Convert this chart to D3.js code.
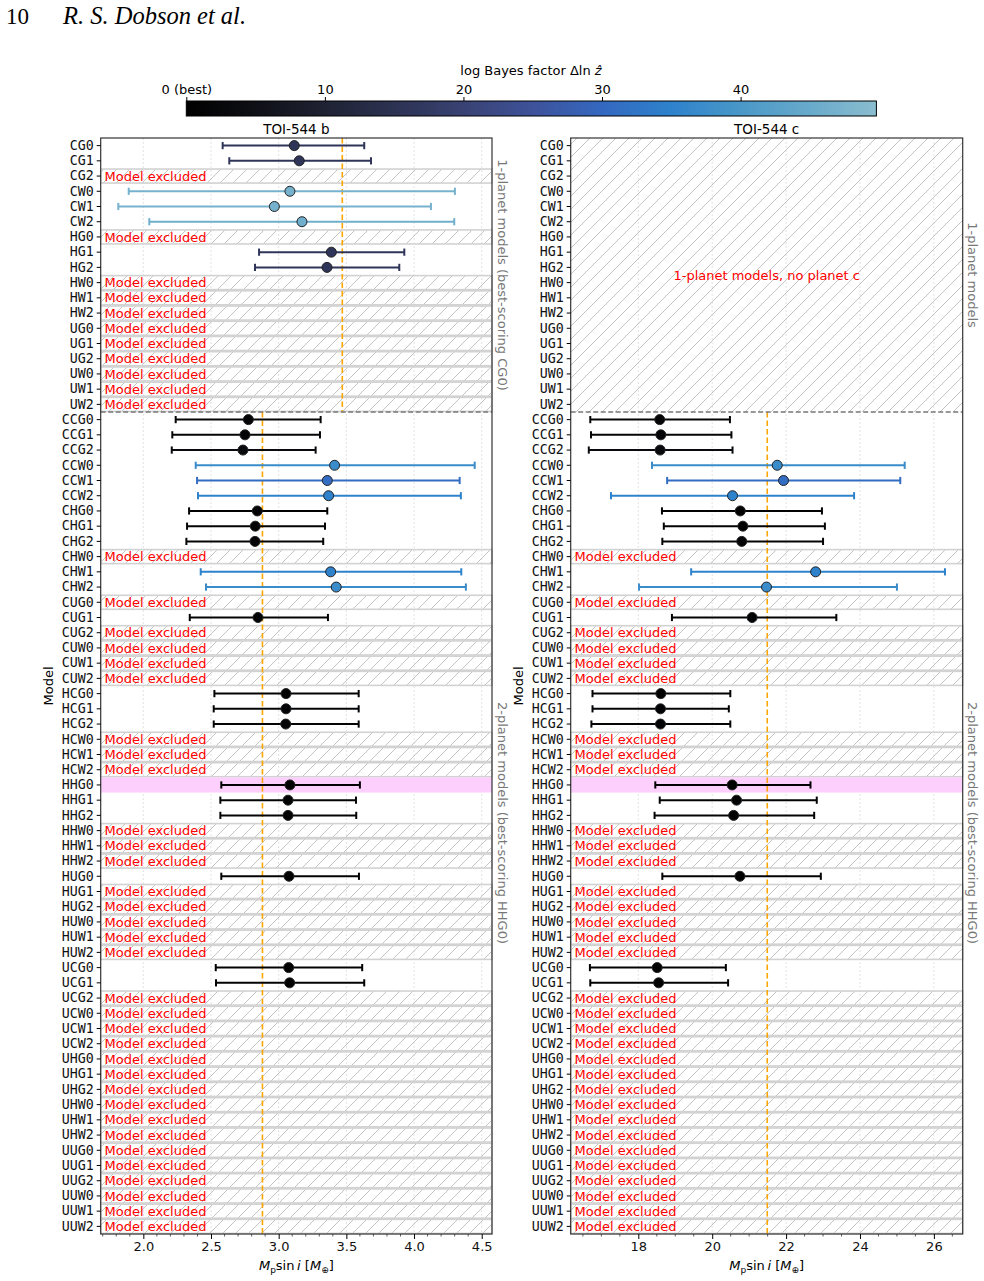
<!DOCTYPE html>
<html><head><meta charset="utf-8">
<script src="https://cdn.jsdelivr.net/npm/d3@7"></script>
<style>body{margin:0;background:#fff}svg{display:block}</style>
</head><body>
<script>
// ---------------- DATA ----------------
const models = ["CG0","CG1","CG2","CW0","CW1","CW2","HG0","HG1","HG2","HW0","HW1","HW2","UG0","UG1","UG2","UW0","UW1","UW2",
"CCG0","CCG1","CCG2","CCW0","CCW1","CCW2","CHG0","CHG1","CHG2","CHW0","CHW1","CHW2","CUG0","CUG1","CUG2","CUW0","CUW1","CUW2",
"HCG0","HCG1","HCG2","HCW0","HCW1","HCW2","HHG0","HHG1","HHG2","HHW0","HHW1","HHW2","HUG0","HUG1","HUG2","HUW0","HUW1","HUW2",
"UCG0","UCG1","UCG2","UCW0","UCW1","UCW2","UHG0","UHG1","UHG2","UHW0","UHW1","UHW2","UUG0","UUG1","UUG2","UUW0","UUW1","UUW2"];
const onePlanetCount = 18;
const bestModel = "HHG0";

// planet b fits (models not listed are excluded)
const fitB = ["CG0","CG1","CW0","CW1","CW2","HG1","HG2","CCG0","CCG1","CCG2","CCW0","CCW1","CCW2","CHG0","CHG1","CHG2","CHW1","CHW2","CUG1","HCG0","HCG1","HCG2","HHG0","HHG1","HHG2","HUG0","UCG0","UCG1"];
const bMed = [3.115,3.152,3.083,2.968,3.172,3.389,3.357,2.776,2.751,2.736,3.413,3.359,3.369,2.842,2.827,2.825,3.384,3.425,2.847,3.054,3.054,3.052,3.083,3.069,3.069,3.076,3.074,3.081];
const bLo  = [2.586,2.635,1.892,1.815,2.044,2.855,2.825,2.239,2.214,2.210,2.387,2.397,2.404,2.338,2.323,2.318,2.424,2.463,2.343,2.525,2.520,2.520,2.576,2.569,2.569,2.576,2.535,2.537];
const bHi  = [3.632,3.682,4.302,4.125,4.297,3.928,3.891,3.310,3.305,3.273,4.448,4.337,4.346,3.359,3.342,3.329,4.349,4.383,3.364,3.591,3.591,3.591,3.600,3.571,3.573,3.593,3.617,3.632];
const deltaLnZ = [16,16,47,47,46,16,16,1.5,1.5,3,37,31,35,0.5,1,1.5,35,37,0.8,0.7,0.8,1.5,0,0.8,1.2,0.5,0.5,0.6];

// planet c fits (2-planet models only)
const fitC = ["CCG0","CCG1","CCG2","CCW0","CCW1","CCW2","CHG0","CHG1","CHG2","CHW1","CHW2","CUG1","HCG0","HCG1","HCG2","HHG0","HHG1","HHG2","HUG0","UCG0","UCG1"];
const cMed = [18.58,18.61,18.59,21.76,21.93,20.55,20.76,20.83,20.80,22.80,21.47,21.08,18.61,18.60,18.60,20.54,20.66,20.58,20.75,18.51,18.55];
const cLo  = [16.70,16.72,16.66,18.37,18.78,17.26,18.64,18.69,18.65,19.43,18.02,18.91,16.76,16.76,16.73,18.46,18.58,18.44,18.65,16.69,16.70];
const cHi  = [20.48,20.52,20.55,25.21,25.09,23.84,22.97,23.05,23.00,26.30,25.00,23.36,20.49,20.45,20.49,22.66,22.83,22.76,22.94,20.37,20.43];

// reference (literature) values
const refB1 = 3.47, refB2 = 2.88, refC2 = 21.49;

const xTicksB = [2.0,2.5,3.0,3.5,4.0,4.5];
const xTicksC = [18,20,22,24,26];
const cbTicks = [0,10,20,30,40];
const cbTickLabels = ["0 (best)","10","20","30","40"];
const cbMax = 49.8;

// colormap stops
const cmapStops = [0,5,10,15,20,25,30,35,40,45,49.8];
const cmapColors = ["#000000","#0f1016","#1f2233","#2c3252","#394273","#3e529a","#3468c0","#2e82cc","#4a98c8","#68aacb","#8abdcf"];

// ---------------- DRAW ----------------
const W = 984, H = 1281;
const svg = d3.select("body").append("svg").attr("width", W).attr("height", H)
  .style("font-family","'DejaVu Sans', sans-serif");
svg.append("rect").attr("width",W).attr("height",H).attr("fill","#fff");

const cmap = d3.scaleLinear().domain(cmapStops).range(cmapColors).interpolate(d3.interpolateRgb).clamp(true);

const defs = svg.append("defs");
const pat = defs.append("pattern").attr("id","hatch").attr("patternUnits","userSpaceOnUse")
  .attr("width",13).attr("height",13);
pat.append("path").attr("d","M-1,1 l2,-2 M0,13 l13,-13 M12,14 l2,-2")
  .attr("stroke","#c4c4c4").attr("stroke-width",1);
const grad = defs.append("linearGradient").attr("id","cbgrad");
cmapStops.forEach((s,i)=>grad.append("stop").attr("offset",(s/cbMax*100)+"%").attr("stop-color",cmapColors[i]));

// header
svg.append("text").attr("x",6).attr("y",24).attr("font-family","'Liberation Serif', serif").attr("font-size",23).text("10");
svg.append("text").attr("x",63).attr("y",24).attr("font-family","'Liberation Serif', serif").attr("font-style","italic").attr("font-size",24.5).text("R. S. Dobson et al.");

// colorbar
const cbX = d3.scaleLinear().domain([0,cbMax]).range([186.3,876.4]);
svg.append("rect").attr("x",cbX(0)).attr("y",101).attr("width",cbX(cbMax)-cbX(0)).attr("height",15)
  .attr("fill","url(#cbgrad)").attr("stroke","#000").attr("stroke-width",1);
const cbAxis = svg.append("g").attr("transform","translate(0,101)")
  .call(d3.axisTop(cbX).tickValues(cbTicks).tickFormat((d,i)=>cbTickLabels[i]).tickSize(4).tickSizeOuter(0));
cbAxis.select(".domain").remove();
cbAxis.selectAll("text").attr("font-size",13).attr("font-family","'DejaVu Sans', sans-serif").attr("fill","#000");
const cbt = svg.append("text").attr("x",531).attr("y",75).attr("text-anchor","middle").attr("font-size",13);
cbt.append("tspan").text("log Bayes factor \u0394ln ");
cbt.append("tspan").attr("font-style","italic").text("z\u0302");

const yTop = 138, yBot = 1234;
const y = d3.scaleBand().domain(models).range([yTop,yBot]).padding(0);
const bw = y.bandwidth();
const yc = m => y(m) + bw/2;

const lnzMap = new Map(fitB.map((m,i)=>[m,deltaLnZ[i]]));

function panel(opts){
  const {x0,x1,domain,ticks,minorStep,title,fits,med,lo,hi,refs,upperHatched,rightLabels,majorFmt} = opts;
  const x = d3.scaleLinear().domain(domain).range([x0,x1]);
  const g = svg.append("g");
  const sepY = y(models[onePlanetCount]);

  // grid
  g.selectAll(".grid").data(ticks).join("line")
    .attr("x1",d=>x(d)).attr("x2",d=>x(d)).attr("y1",yTop).attr("y2",yBot)
    .attr("stroke","#dcdcdc").attr("stroke-width",0.8).attr("stroke-dasharray","2,2");

  // excluded bands
  const fitSet = new Set(fits);
  const excluded = models.filter((m,i)=>!fitSet.has(m) && !(upperHatched && i<onePlanetCount));
  g.selectAll(".band").data(excluded).join("rect")
    .attr("x",x0).attr("width",x1-x0).attr("y",d=>y(d)+0.6).attr("height",bw-1.2)
    .attr("fill","url(#hatch)").attr("stroke","#d2d2d2").attr("stroke-width",1.6);
  if (upperHatched){
    g.append("rect").attr("x",x0).attr("width",x1-x0).attr("y",yTop).attr("height",sepY-yTop)
      .attr("fill","url(#hatch)");
    g.append("text").attr("x",(x0+x1)/2).attr("y",(yTop+sepY)/2+4.5).attr("text-anchor","middle")
      .attr("fill","#ff0000").attr("font-size",13).text("1-planet models, no planet c");
  }
  // best highlight
  g.append("rect").attr("x",x0).attr("width",x1-x0).attr("y",y(bestModel)).attr("height",bw).attr("fill","#fdcffd");

  // reference lines
  refs.forEach(r=>{
    g.append("line").attr("x1",x(r.v)).attr("x2",x(r.v)).attr("y1",r.y1).attr("y2",r.y2)
      .attr("stroke","#ffa500").attr("stroke-width",1.6).attr("stroke-dasharray","5.5,3");
  });
  // separator
  g.append("line").attr("x1",x0).attr("x2",x1).attr("y1",sepY).attr("y2",sepY)
    .attr("stroke","#777").attr("stroke-width",1.5).attr("stroke-dasharray","5,2.5");

  // error bars + points
  fits.forEach((m,i)=>{
    const col = cmap(lnzMap.get(m));
    const cy = yc(m);
    g.append("line").attr("x1",x(lo[i])).attr("x2",x(hi[i])).attr("y1",cy).attr("y2",cy).attr("stroke",col).attr("stroke-width",2);
    [lo[i],hi[i]].forEach(v=>g.append("line").attr("x1",x(v)).attr("x2",x(v)).attr("y1",cy-3.6).attr("y2",cy+3.6).attr("stroke",col).attr("stroke-width",2));
    g.append("circle").attr("cx",x(med[i])).attr("cy",cy).attr("r",5).attr("fill",col).attr("stroke","#222").attr("stroke-width",1);
  });

  // excluded text
  g.selectAll(".ex").data(excluded).join("text")
    .attr("x",x0+3.8).attr("y",d=>yc(d)+4.6).attr("fill","#ff0000").attr("font-size",13).text("Model excluded");

  // frame
  g.append("rect").attr("x",x0).attr("y",yTop).attr("width",x1-x0).attr("height",yBot-yTop)
    .attr("fill","none").attr("stroke","#333").attr("stroke-width",1.2);

  // axes
  const xa = g.append("g").attr("transform",`translate(0,${yBot})`)
    .call(d3.axisBottom(x).tickValues(ticks).tickFormat(majorFmt).tickSize(5).tickSizeOuter(0).tickPadding(3));
  xa.select(".domain").remove();
  xa.selectAll("text").attr("font-size",13).attr("font-family","'DejaVu Sans', sans-serif").attr("fill","#111");
  const minor = d3.range(Math.ceil(domain[0]/minorStep)*minorStep, domain[1], minorStep)
    .filter(v=>!ticks.some(t=>Math.abs(t-v)<1e-6));
  g.selectAll(".minor").data(minor).join("line").attr("x1",d=>x(d)).attr("x2",d=>x(d))
    .attr("y1",yBot).attr("y2",yBot+2.5).attr("stroke","#333").attr("stroke-width",0.8);

  const ya = g.append("g").attr("transform",`translate(${x0},0)`)
    .call(d3.axisLeft(y).tickSize(4).tickSizeOuter(0).tickPadding(3));
  ya.select(".domain").remove();
  ya.selectAll("text").attr("font-size",13.3).attr("font-family","'DejaVu Sans Mono', monospace").attr("fill","#111");

  // title
  g.append("text").attr("x",(x0+x1)/2).attr("y",134).attr("text-anchor","middle").attr("font-size",13.5).text(title);
  // y label
  g.append("text").attr("transform",`translate(${x0-48},${(yTop+yBot)/2}) rotate(-90)`).attr("text-anchor","middle")
    .attr("font-size",13).text("Model");
  // x label
  const xl = g.append("text").attr("x",(x0+x1)/2).attr("y",1270).attr("text-anchor","middle").attr("font-size",13);
  xl.append("tspan").attr("font-style","italic").text("M");
  xl.append("tspan").attr("font-size",9).attr("dy",3).text("p");
  xl.append("tspan").attr("dy",-3).text("sin\u2009");
  xl.append("tspan").attr("font-style","italic").text("i");
  xl.append("tspan").text(" [");
  xl.append("tspan").attr("font-style","italic").text("M");
  xl.append("tspan").attr("font-size",9).attr("dy",3).text("\u2295");
  xl.append("tspan").attr("dy",-3).text("]");

  // right side labels
  rightLabels.forEach(l=>{
    g.append("text").attr("transform",`translate(${x1+9},${(l.y1+l.y2)/2}) rotate(90)`)
      .attr("text-anchor","middle").attr("dominant-baseline","middle").attr("fill","#777").attr("font-size",13).text(l.t);
  });
}

const sepY = y(models[onePlanetCount]);
panel({x0:100.7,x1:492,domain:[1.685,4.576],ticks:xTicksB,minorStep:0.1,title:"TOI-544 b",
  fits:fitB,med:bMed,lo:bLo,hi:bHi,majorFmt:d3.format(".1f"),
  refs:[{v:refB1,y1:yTop,y2:sepY},{v:refB2,y1:sepY,y2:yBot}],upperHatched:false,
  rightLabels:[{t:"1-planet models (best-scoring CG0)",y1:yTop,y2:sepY},{t:"2-planet models (best-scoring HHG0)",y1:sepY,y2:yBot}]});
panel({x0:570.7,x1:962.7,domain:[16.17,26.78],ticks:xTicksC,minorStep:0.5,title:"TOI-544 c",
  fits:fitC,med:cMed,lo:cLo,hi:cHi,majorFmt:d3.format("d"),
  refs:[{v:refC2,y1:sepY,y2:yBot}],upperHatched:true,
  rightLabels:[{t:"1-planet models",y1:yTop,y2:sepY},{t:"2-planet models (best-scoring HHG0)",y1:sepY,y2:yBot}]});
</script>
</body></html>
